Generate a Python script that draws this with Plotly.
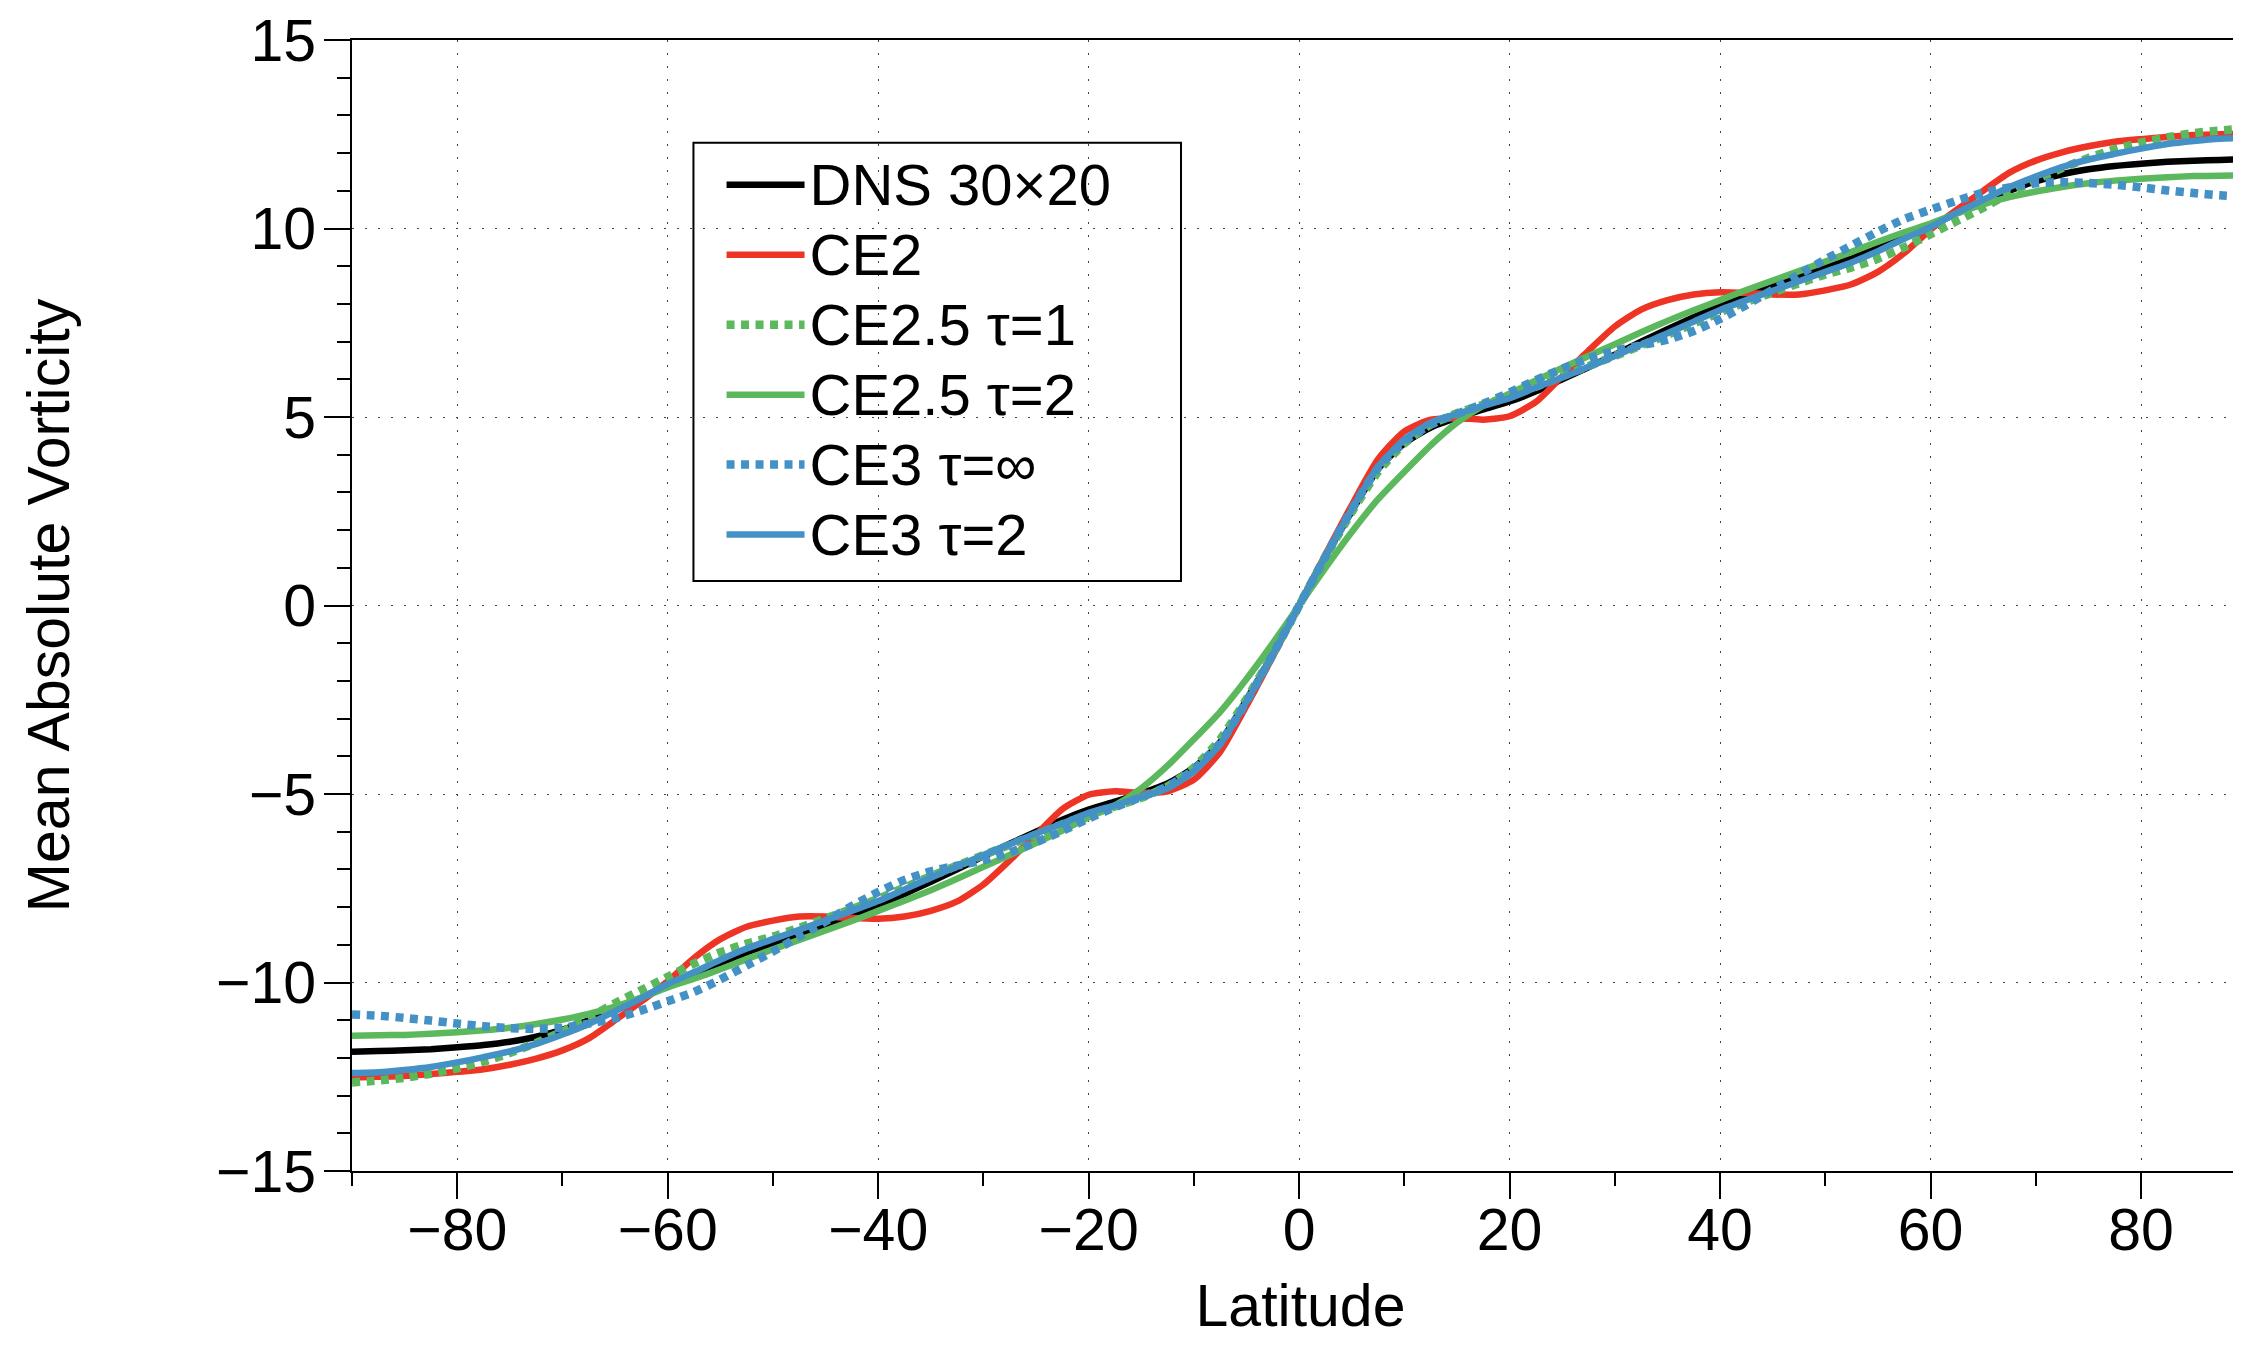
import plotly.graph_objects as go

lat = [-90, -87.5, -85, -82.5, -80, -77.5, -75, -72.5, -70, -67.5, -65, -62.5, -60, -57.5, -55, -52.5,
       -50, -47.5, -45, -42.5, -40, -37.5, -35, -32.5, -30, -27.5, -25, -22.5, -20, -17.5, -15, -12.5,
       -10, -7.5, -5, -2.5, 0, 2.5, 5, 7.5, 10, 12.5, 15, 17.5, 20, 22.5, 25, 27.5, 30, 32.5, 35, 37.5,
       40, 42.5, 45, 47.5, 50, 52.5, 55, 57.5, 60, 62.5, 65, 67.5, 70, 72.5, 75, 77.5, 80, 82.5, 85, 87.5, 90]

dns = [-11.84, -11.82, -11.8, -11.77, -11.72, -11.66, -11.57, -11.44, -11.25, -11.0, -10.72, -10.4,
       -10.08, -9.77, -9.48, -9.2, -8.96, -8.75, -8.5, -8.24, -7.95, -7.65, -7.33, -7.0, -6.65, -6.32,
       -6.0, -5.68, -5.41, -5.2, -4.98, -4.72, -4.3, -3.62, -2.5, -1.3,
       0,
       1.3, 2.5, 3.62, 4.3, 4.72, 4.98, 5.2, 5.41, 5.68, 6.0, 6.32, 6.65, 7.0, 7.33, 7.65, 7.95, 8.24,
       8.5, 8.75, 8.96, 9.2, 9.48, 9.77, 10.08, 10.4, 10.72, 11.0, 11.25, 11.44, 11.57, 11.66, 11.72,
       11.77, 11.8, 11.82, 11.84]

ce2 = [-12.52, -12.5, -12.48, -12.43, -12.37, -12.3, -12.18, -12.02, -11.8, -11.48, -11.0, -10.5,
       -9.97, -9.35, -8.85, -8.52, -8.36, -8.25, -8.25, -8.29, -8.31, -8.25, -8.1, -7.85, -7.4, -6.76,
       -6.08, -5.4, -5.02, -4.93, -4.97, -4.93, -4.62, -3.88, -2.66, -1.35,
       0,
       1.35, 2.66, 3.88, 4.62, 4.93, 4.97, 4.93, 5.02, 5.4, 6.08, 6.76, 7.4, 7.85, 8.1, 8.25, 8.31,
       8.29, 8.25, 8.25, 8.36, 8.52, 8.85, 9.35, 9.97, 10.5, 11.0, 11.48, 11.8, 12.02, 12.18, 12.3,
       12.37, 12.43, 12.48, 12.5, 12.52]

ce25_tau1 = [-12.65, -12.6, -12.53, -12.42, -12.28, -12.1, -11.87, -11.6, -11.3, -10.93, -10.55, -10.2,
             -9.85, -9.5, -9.2, -8.97, -8.78, -8.55, -8.3, -8.05, -7.78, -7.48, -7.18, -6.9, -6.62, -6.35,
             -6.08, -5.8, -5.55, -5.33, -5.1, -4.8, -4.3, -3.55, -2.48, -1.28,
             0,
             1.28, 2.48, 3.55, 4.3, 4.8, 5.1, 5.33, 5.55, 5.8, 6.08, 6.35, 6.62, 6.9, 7.18, 7.48, 7.78,
             8.05, 8.3, 8.55, 8.78, 8.97, 9.2, 9.5, 9.85, 10.2, 10.55, 10.93, 11.3, 11.6, 11.87, 12.1,
             12.28, 12.42, 12.53, 12.6, 12.65]

ce25_tau2 = [-11.41, -11.4, -11.39, -11.36, -11.32, -11.27, -11.2, -11.1, -10.98, -10.83, -10.64, -10.4,
             -10.13, -9.9, -9.65, -9.38, -9.12, -8.87, -8.62, -8.37, -8.1, -7.83, -7.55, -7.25, -6.93,
             -6.62, -6.3, -5.97, -5.62, -5.3, -4.85, -4.25, -3.55, -2.82, -1.95, -1.0,
             0,
             1.0, 1.95, 2.82, 3.55, 4.25, 4.85, 5.3, 5.62, 5.97, 6.3, 6.62, 6.93, 7.25, 7.55, 7.83, 8.1,
             8.37, 8.62, 8.87, 9.12, 9.38, 9.65, 9.9, 10.13, 10.4, 10.64, 10.83, 10.98, 11.1, 11.2, 11.27,
             11.32, 11.36, 11.39, 11.4, 11.41]

ce3_tauinf = [-10.85, -10.88, -10.94, -11.01, -11.09, -11.16, -11.21, -11.23, -11.2, -11.09, -10.95, -10.74,
              -10.5, -10.25, -9.92, -9.55, -9.18, -8.78, -8.38, -7.97, -7.6, -7.28, -7.05, -6.9, -6.76,
              -6.55, -6.28, -5.98, -5.65, -5.35, -5.08, -4.8, -4.35, -3.65, -2.55, -1.3,
              0,
              1.3, 2.55, 3.65, 4.35, 4.8, 5.08, 5.35, 5.65, 5.98, 6.28, 6.55, 6.76, 6.9, 7.05, 7.28, 7.6,
              7.97, 8.38, 8.78, 9.18, 9.55, 9.92, 10.25, 10.5, 10.74, 10.95, 11.09, 11.2, 11.23, 11.21,
              11.16, 11.09, 11.01, 10.94, 10.88, 10.85]

ce3_tau2 = [-12.4, -12.38, -12.32, -12.24, -12.12, -11.98, -11.83, -11.63, -11.38, -11.1, -10.76, -10.42,
            -10.04, -9.73, -9.4, -9.1, -8.85, -8.6, -8.35, -8.1, -7.84, -7.53, -7.22, -6.92, -6.62, -6.33,
            -6.05, -5.78, -5.5, -5.3, -5.08, -4.85, -4.4, -3.68, -2.55, -1.3,
            0,
            1.3, 2.55, 3.68, 4.4, 4.85, 5.08, 5.3, 5.5, 5.78, 6.05, 6.33, 6.62, 6.92, 7.22, 7.53, 7.84,
            8.1, 8.35, 8.6, 8.85, 9.1, 9.4, 9.73, 10.04, 10.42, 10.76, 11.1, 11.38, 11.63, 11.83, 11.98,
            12.12, 12.24, 12.32, 12.38, 12.4]

names = ["DNS 30×20", "CE2", "CE2.5 τ=1", "CE2.5 τ=2", "CE3 τ=∞", "CE3 τ=2"]
series = [dns, ce2, ce25_tau1, ce25_tau2, ce3_tauinf, ce3_tau2]
colors = ["#000000", "#EE3424", "#5CB85C", "#5CB85C", "#4491C6", "#4491C6"]
dashes = ["solid", "solid", "8px,6.5px", "solid", "8px,6.5px", "solid"]
widths = [6.5, 6.5, 8.5, 6.5, 8.5, 6.5]

FONT = "Liberation Sans, Arial, Helvetica, sans-serif"
FS = 59

fig = go.Figure()
for name, ys, c, d, w in zip(names, series, colors, dashes, widths):
    fig.add_trace(go.Scatter(
        x=lat, y=ys, mode="lines",
        name='<span style="font-size:58px">' + name + '</span>',
        line=dict(color=c, width=w, dash=d, shape="spline", smoothing=0.6),
    ))

axis_common = dict(
    showline=True, linecolor="black", linewidth=2,
    ticks="outside", ticklen=26, tickwidth=1.5, tickcolor="black",
    showgrid=True, gridcolor="#444444", gridwidth=1.3, griddash="2px,11px",
    zeroline=False, ticklabeloverflow="allow",
    tickfont=dict(family=FONT, size=FS, color="black"),
)

# legend frame (decoration, in paper coordinates)
fig.add_shape(type="rect", xref="paper", yref="paper",
              x0=0.180, x1=0.437, y0=0.5216, y1=0.9091,
              line=dict(color="black", width=2), fillcolor="rgba(0,0,0,0)", layer="above")

fig.update_layout(
    width=2241, height=1347,
    margin=dict(l=344, r=0, t=30, b=184),
    paper_bgcolor="white", plot_bgcolor="white",
    font=dict(family=FONT, size=FS, color="black"),
    showlegend=True,
    legend=dict(
        x=0.1948, y=0.9073, xanchor="left", yanchor="top",
        bgcolor="rgba(0,0,0,0)", borderwidth=0,
        font=dict(family=FONT, size=51.5, color="black"),
        itemwidth=78,
    ),
    xaxis=dict(
        range=[-90, 90.26], dtick=20, tick0=0, mirror=True,
        ticklabelstandoff=-20,
        minor=dict(ticks="outside", ticklen=13, tickwidth=1.5, tickcolor="black", dtick=10, tick0=0, showgrid=False),
        title=dict(text="Latitude", font=dict(family=FONT, size=FS), standoff=23),
        **axis_common,
    ),
    yaxis=dict(
        range=[-15, 15], dtick=5, tick0=0, mirror=False,
        ticklabelstandoff=-4,
        minor=dict(ticks="outside", ticklen=13, tickwidth=1.5, tickcolor="black", dtick=1, tick0=0, showgrid=False),
        title=dict(text="Mean Absolute Vorticity", font=dict(family=FONT, size=FS), standoff=127),
        **axis_common,
    ),
)

fig.write_html("out.html")
